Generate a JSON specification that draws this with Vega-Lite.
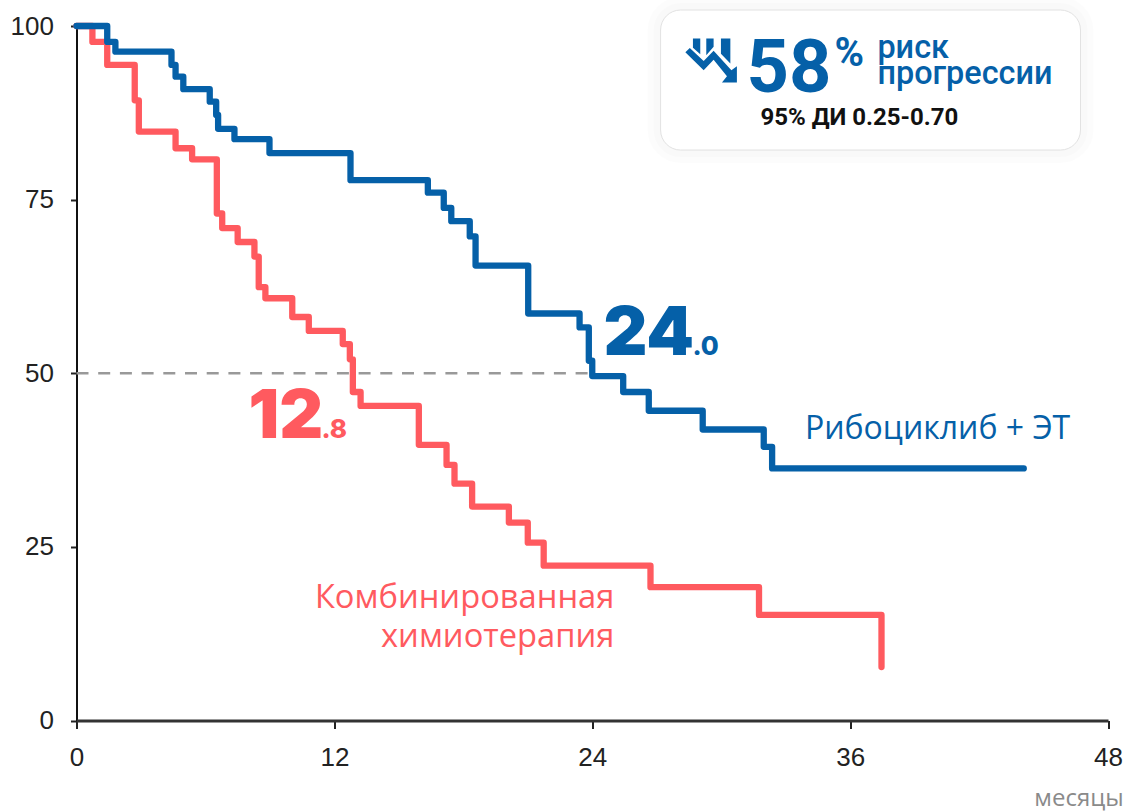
{
"$schema":"https://vega.github.io/schema/vega-lite/v6.json",
"width":1031.5,"height":694.5,
"autosize":"none",
"padding":{"left":76.5,"top":26,"right":16,"bottom":91},
"background":"#ffffff",
"config":{"view":{"stroke":null}},
"datasets":{
"card":[{"x1":27.18,"x2":46.72,"y1":82.14,"y2":102.3}],
"ref":[{"x":0,"y":50},{"x":24,"y":50}],
"blue":[{"x":0,"y":100},{"x":1.43,"y":97.7},{"x":1.81,"y":96.3},{"x":4.42,"y":94.4},{"x":4.61,"y":92.7},{"x":4.97,"y":90.9},{"x":6.2,"y":89.1},{"x":6.5,"y":87.2},{"x":6.59,"y":85.2},{"x":7.35,"y":83.7},{"x":8.98,"y":81.7},{"x":12.75,"y":77.8},{"x":16.35,"y":76.0},{"x":17.09,"y":73.8},{"x":17.44,"y":71.9},{"x":18.3,"y":69.7},{"x":18.57,"y":65.5},{"x":21.02,"y":58.6},{"x":23.41,"y":56.6},{"x":23.84,"y":51.8},{"x":24.0,"y":49.6},{"x":25.44,"y":47.3},{"x":26.63,"y":44.6},{"x":29.14,"y":41.9},{"x":31.98,"y":39.4},{"x":32.37,"y":36.3},{"x":44.08,"y":36.3}],
"red":[{"x":0,"y":100},{"x":0.74,"y":97.7},{"x":1.43,"y":94.4},{"x":2.71,"y":89.3},{"x":2.9,"y":84.8},{"x":4.61,"y":82.4},{"x":5.38,"y":80.8},{"x":6.53,"y":73.0},{"x":6.78,"y":70.9},{"x":7.5,"y":68.9},{"x":8.28,"y":66.8},{"x":8.48,"y":62.4},{"x":8.79,"y":60.8},{"x":10.04,"y":58.1},{"x":10.81,"y":56.1},{"x":12.39,"y":54.2},{"x":12.72,"y":52.0},{"x":12.86,"y":47.3},{"x":13.22,"y":45.3},{"x":15.93,"y":39.7},{"x":17.22,"y":36.8},{"x":17.59,"y":34.1},{"x":18.41,"y":30.8},{"x":20.12,"y":28.5},{"x":21.0,"y":25.6},{"x":21.74,"y":22.3},{"x":26.71,"y":19.2},{"x":31.76,"y":15.2},{"x":37.46,"y":7.7}]
},
"encoding":{
"x":{"field":"x","type":"quantitative","scale":{"domain":[0,48],"nice":false,"zero":false},"title":null,
"axis":{"values":[0,12,24,36,48],"grid":false,"domainColor":"#333333","domainWidth":3,"tickColor":"#222222","tickWidth":2,"tickSize":8,"labelFont":"Liberation Sans","labelFontSize":26,"labelColor":"#222222","labelPadding":16,"labelFlush":false,"labelOverlap":false,"labelBound":false,"zindex":1}},
"y":{"field":"y","type":"quantitative","scale":{"domain":[0,100],"nice":false,"zero":false},"title":null,
"axis":{"values":[0,25,50,75,100],"grid":false,"domainColor":"#111111","domainWidth":2,"tickColor":"#222222","tickWidth":2,"tickSize":6,"labelFont":"Liberation Sans","labelFontSize":26,"labelColor":"#222222","labelPadding":17,"labelOverlap":false,"labelBound":false,"labelBaseline":"middle"}}
},
"layer":[
{"data":{"name":"ref"},"mark":{"type":"line","color":"#999999","strokeWidth":2.5,"strokeDash":[12,9.7]}},
{"data":{"name":"red"},"mark":{"type":"line","interpolate":"step-after","color":"#FF5A5F","strokeWidth":6.3,"strokeJoin":"round","strokeCap":"round"}},
{"data":{"name":"blue"},"mark":{"type":"line","interpolate":"step-after","color":"#0560A8","strokeWidth":6.3,"strokeJoin":"round","strokeCap":"round"}},
{"data":{"name":"card"},"mark":{"type":"rect","cornerRadius":20,"fill":"#ffffff","stroke":"#000000","strokeOpacity":0.012,"strokeWidth":26},"encoding":{"x":{"field":"x1","type":"quantitative"},"x2":{"field":"x2"},"y":{"field":"y1","type":"quantitative"},"y2":{"field":"y2"}}},
{"data":{"name":"card"},"mark":{"type":"rect","cornerRadius":20,"fill":"#ffffff","stroke":"#000000","strokeOpacity":0.012,"strokeWidth":14},"encoding":{"x":{"field":"x1","type":"quantitative"},"x2":{"field":"x2"},"y":{"field":"y1","type":"quantitative"},"y2":{"field":"y2"}}},
{"data":{"name":"card"},"mark":{"type":"rect","cornerRadius":20,"fill":"#ffffff","stroke":"#e2e2e2","strokeWidth":1},"encoding":{"x":{"field":"x1","type":"quantitative"},"x2":{"field":"x2"},"y":{"field":"y1","type":"quantitative"},"y2":{"field":"y2"}}},
{"data":{"values":[{"x":29.55,"y":95.0}]},"mark":{"type":"point","filled":true,"opacity":1,"color":"#0560A8","size":2738,"shape":"M-.83,-.49L-.30,.01L.08,-.38L.76,.36L.97,.21L.97,.83L.40,.83L.59,.59L.08,-.04L-.30,.36L-1,-.32ZM-.71,-.85L-.43,-.85L-.43,-.25L-.71,-.5ZM-.2,-.85L.08,-.85L.08,-.53L-.2,-.21ZM.36,-.85L.72,-.85L.72,.11L.36,-.27Z"}},
{"data":{"values":[{"x":8.0,"y":40.68,"t":"12"}]},"mark":{"type":"text","font":"Inter","fontWeight":900,"fontSize":68,"color":"#FF5A5F","align":"left","baseline":"alphabetic"},"encoding":{"text":{"field":"t"}}},
{"data":{"values":[{"x":11.4,"y":40.68,"t":".8"}]},"mark":{"type":"text","font":"Inter","fontWeight":800,"fontSize":26,"color":"#FF5A5F","align":"left","baseline":"alphabetic"},"encoding":{"text":{"field":"t"}}},
{"data":{"values":[{"x":24.52,"y":52.63,"t":"24"}]},"mark":{"type":"text","font":"Inter","fontWeight":900,"fontSize":68,"color":"#0560A8","align":"left","baseline":"alphabetic"},"encoding":{"text":{"field":"t"}}},
{"data":{"values":[{"x":28.66,"y":52.63,"t":".0"}]},"mark":{"type":"text","font":"Inter","fontWeight":800,"fontSize":26,"color":"#0560A8","align":"left","baseline":"alphabetic"},"encoding":{"text":{"field":"t"}}},
{"data":{"values":[{"x":33.9,"y":40.5,"t":"Рибоциклиб + ЭТ"}]},"mark":{"type":"text","font":"Open Sans","fontSize":32,"color":"#0560A8","align":"left","baseline":"alphabetic"},"encoding":{"text":{"field":"t"}}},
{"data":{"values":[{"x":25.03,"y":16.2,"t":"Комбинированная"},{"x":25.03,"y":10.6,"t":"химиотерапия"}]},"mark":{"type":"text","font":"Open Sans","fontSize":32.7,"color":"#FF5A5F","align":"right","baseline":"alphabetic"},"encoding":{"text":{"field":"t"}}},
{"data":{"values":[{"x":31.18,"y":90.5,"t":"58"}]},"mark":{"type":"text","font":"Roboto","fontWeight":700,"fontSize":74,"color":"#0560A8","align":"left","baseline":"alphabetic"},"encoding":{"text":{"field":"t"}}},
{"data":{"values":[{"x":35.27,"y":94.2,"t":"%"}]},"mark":{"type":"text","font":"Roboto","fontWeight":700,"fontSize":40,"color":"#0560A8","align":"left","baseline":"alphabetic"},"encoding":{"text":{"field":"t"}}},
{"data":{"values":[{"x":37.27,"y":95.4,"t":"риск"},{"x":37.27,"y":91.65,"t":"прогрессии"}]},"mark":{"type":"text","font":"Roboto","fontWeight":500,"fontSize":32.4,"color":"#0560A8","align":"left","baseline":"alphabetic"},"encoding":{"text":{"field":"t"}}},
{"data":{"values":[{"x":36.43,"y":85.75,"t":"95% ДИ 0.25-0.70"}]},"mark":{"type":"text","font":"Roboto","fontWeight":700,"fontSize":24,"color":"#111111","align":"center","baseline":"alphabetic"},"encoding":{"text":{"field":"t"}}},
{"data":{"values":[{"x":48.73,"y":-12.3,"t":"месяцы"}]},"mark":{"type":"text","font":"Open Sans","fontSize":24,"color":"#8a8a8a","align":"right","baseline":"alphabetic"},"encoding":{"text":{"field":"t"}}}
]
}
